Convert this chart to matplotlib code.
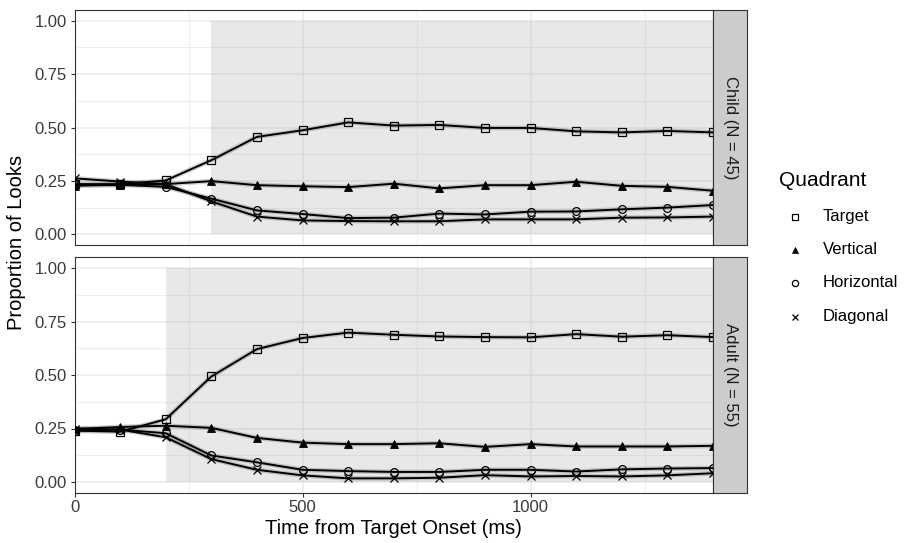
import numpy as np
import matplotlib
matplotlib.use("Agg")
import matplotlib.pyplot as plt
from matplotlib.lines import Line2D
from matplotlib.patches import Rectangle

plt.rcParams['font.family'] = ['Liberation Sans', 'DejaVu Sans']

# time bins (ms from target onset)
time = [0, 100, 200, 300, 400, 500, 600, 700, 800, 900, 1000, 1100, 1200, 1300, 1400]

# proportion of looks per quadrant, children
child_target = [0.235, 0.235, 0.252, 0.347, 0.456, 0.487, 0.524, 0.509, 0.512, 0.498, 0.498, 0.482, 0.477, 0.484, 0.477]
child_vertical = [0.228, 0.232, 0.235, 0.249, 0.230, 0.225, 0.221, 0.237, 0.215, 0.230, 0.230, 0.246, 0.227, 0.222, 0.204]
child_horizontal = [0.230, 0.232, 0.222, 0.167, 0.112, 0.095, 0.076, 0.078, 0.097, 0.093, 0.106, 0.107, 0.117, 0.125, 0.137]
child_diagonal = [0.262, 0.247, 0.235, 0.154, 0.083, 0.065, 0.062, 0.061, 0.061, 0.070, 0.070, 0.070, 0.078, 0.079, 0.083]

# proportion of looks per quadrant, adults
adult_target = [0.240, 0.235, 0.293, 0.493, 0.621, 0.673, 0.698, 0.688, 0.680, 0.677, 0.676, 0.691, 0.679, 0.686, 0.677]
adult_vertical = [0.248, 0.257, 0.263, 0.253, 0.206, 0.184, 0.177, 0.177, 0.181, 0.164, 0.177, 0.166, 0.166, 0.166, 0.169]
adult_horizontal = [0.240, 0.245, 0.228, 0.124, 0.092, 0.057, 0.051, 0.047, 0.047, 0.057, 0.057, 0.049, 0.059, 0.063, 0.065]
adult_diagonal = [0.250, 0.245, 0.209, 0.107, 0.057, 0.031, 0.017, 0.017, 0.020, 0.032, 0.026, 0.028, 0.026, 0.031, 0.041]

quadrants = ['Target', 'Vertical', 'Horizontal', 'Diagonal']
groups = ['Child (N = 45)', 'Adult (N = 55)']
window_start = [300, 200]   # start of analysis window per group
window_end = 1400

panel_data = [
    [child_target, child_vertical, child_horizontal, child_diagonal],
    [adult_target, adult_vertical, adult_horizontal, adult_diagonal],
]

# marker style per quadrant
styles = {
    'Target': dict(marker='s', mfc='none', ms=6.2, mew=0.9),
    'Vertical': dict(marker='^', mfc='black', ms=6.0, mew=0.6),
    'Horizontal': dict(marker='o', mfc='none', ms=5.6, mew=0.9),
    'Diagonal': dict(marker='x', mfc='none', ms=6.0, mew=0.9),
}

W, H = 905, 543
fig = plt.figure(figsize=(9.05, 5.43), dpi=100)

left, right = 74.5, 713
panel_tops = [10, 257.3]
panel_bottoms = [245, 492.7]
grid_col = '#EBEBEB'
axes = []
for k in range(2):
    ax = fig.add_axes([left / W, 1 - panel_bottoms[k] / H,
                       (right - left) / W, (panel_bottoms[k] - panel_tops[k]) / H])
    axes.append(ax)
    ax.set_xlim(0, 1400)
    ax.set_ylim(-0.05, 1.05)

    # grid, major and minor
    for v in [0, 500, 1000]:
        ax.axvline(v, color=grid_col, lw=1.1, zorder=0)
    for v in [250, 750, 1250]:
        ax.axvline(v, color=grid_col, lw=0.6, zorder=0)
    for v in [0, 0.25, 0.5, 0.75, 1.0]:
        ax.axhline(v, color=grid_col, lw=1.1, zorder=0)
    for v in [0.125, 0.375, 0.625, 0.875]:
        ax.axhline(v, color=grid_col, lw=0.6, zorder=0)

    # analysis window
    ax.add_patch(Rectangle((window_start[k], 0), window_end - window_start[k], 1,
                           facecolor='#999999', alpha=0.22, lw=0, zorder=1))

    for q, vals in zip(quadrants, panel_data[k]):
        ax.plot(time, vals, color='#777777', lw=3.4, alpha=0.35, zorder=2,
                solid_capstyle='butt')
        ax.plot(time, vals, color='black', lw=1.4, zorder=3, mec='black',
                clip_on=True, **styles[q])

    ax.set_yticks([0, 0.25, 0.5, 0.75, 1.0])
    ax.set_yticklabels(['0.00', '0.25', '0.50', '0.75', '1.00'])
    ax.set_xticks([0, 500, 1000])
    ax.tick_params(axis='both', length=3, width=0.8, color='#333333',
                   labelsize=12, labelcolor='#3A3A3A', pad=2.5)
    for s in ax.spines.values():
        s.set_color('#333333')
        s.set_linewidth(0.8)
    if k == 0:
        ax.tick_params(axis='x', bottom=False, labelbottom=False)

    # facet strip on the right
    strip = fig.add_axes([right / W, 1 - panel_bottoms[k] / H,
                          34 / W, (panel_bottoms[k] - panel_tops[k]) / H])
    strip.set_xticks([])
    strip.set_yticks([])
    strip.set_facecolor('#CCCCCC')
    for s in strip.spines.values():
        s.set_color('#333333')
        s.set_linewidth(0.8)
    strip.text(0.5, 0.5, groups[k], rotation=-90, ha='center', va='center',
               fontsize=12, color='#1A1A1A', transform=strip.transAxes)

fig.text(17 / W, 1 - 242 / H, 'Proportion of Looks', rotation=90,
         ha='center', va='center', fontsize=14.5, color='black')
fig.text(393.8 / W, 1 - 529 / H, 'Time from Target Onset (ms)',
         ha='center', va='center', fontsize=14.5, color='black')

# legend
fig.text(779 / W, 1 - 180.7 / H, 'Quadrant', ha='left', va='center',
         fontsize=15, color='black')
legend_y = [217, 250, 282.5, 316.7]
legend_styles = {
    'Target': dict(marker='s', mfc='none', ms=4.5, mew=0.9),
    'Vertical': dict(marker='^', mfc='black', ms=4.5, mew=0.5),
    'Horizontal': dict(marker='o', mfc='none', ms=4.5, mew=0.9),
    'Diagonal': dict(marker='x', mfc='none', ms=4.8, mew=0.9),
}
for q, yy in zip(quadrants, legend_y):
    fig.add_artist(Line2D([795 / W], [1 - yy / H], color='black', mec='black',
                          transform=fig.transFigure, **legend_styles[q]))
    fig.text(822.7 / W, 1 - yy / H, q, ha='left', va='center',
             fontsize=12, color='black')

fig.savefig('out.png', dpi=100)
